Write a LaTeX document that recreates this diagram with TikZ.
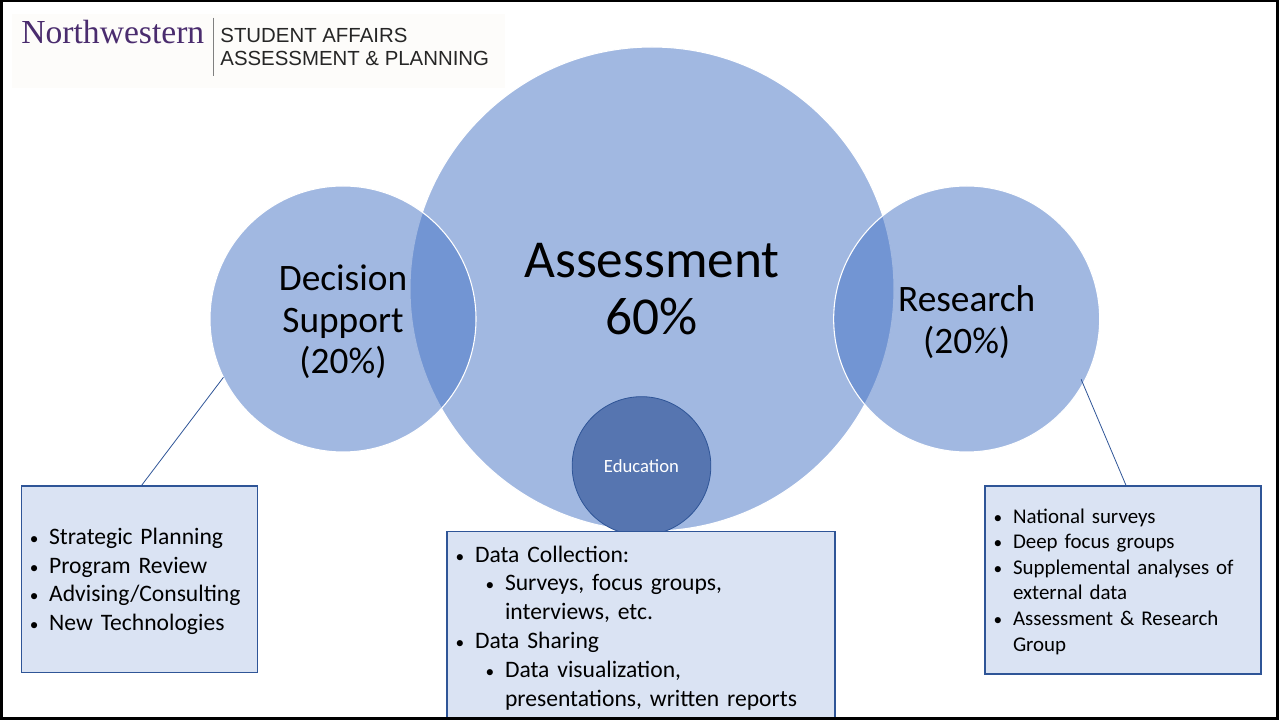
\documentclass[tikz,border=0pt]{standalone}
\usepackage{fontspec}
\usepackage{enumitem}
\usepackage{tikz}
\usetikzlibrary{positioning}
\setmainfont{Carlito}
\newfontfamily\logoserif{Liberation Serif}
\newfontfamily\logosans{Liberation Sans}
\definecolor{bubblefill}{HTML}{4472C4}
\definecolor{edublue}{HTML}{5675B0}
\definecolor{boxblue}{HTML}{2F5597}
\definecolor{boxfill}{HTML}{DAE3F3}
\definecolor{nwpurple}{HTML}{4A2C6E}
\definecolor{logopaper}{HTML}{FDFCFA}
\setlist[itemize]{nosep, leftmargin=21pt, labelsep=8pt, label={\fontsize{13}{13}\selectfont\textbullet}}
\setlist[itemize,1]{after=\vspace{6pt}}
\newcommand{\bubblelines}[1]{\raisebox{-3.75pt}[\height][\depth]{\begin{tabular}{@{}c@{}}#1\end{tabular}}}
\tikzset{
    bubble/.style={circle, draw=white, fill=bubblefill, fill opacity=0.5, text opacity=1, thick, align=center, outer sep=0pt},
    listbox/.style={rectangle, draw=boxblue, fill=boxfill, line width=0.9pt, inner xsep=0pt, inner ysep=0pt, outer sep=0pt, align=left}
}

\begin{document}
\begin{tikzpicture}[
            x = 0.75pt, % one unit is one pixel of the slide
            y = 0.75pt,
            semithick % line style
        ]

        \useasboundingbox (0,0) rectangle (1279,721);

        % logo strip
        \fill[logopaper] (12,633) rectangle (505,707);
        \node[font=\logoserif\fontsize{25.2}{30}\selectfont, text=nwpurple, inner sep=0pt, anchor=west] (nw) at (21,689) {Northwestern};
        \node[draw=none, inner sep=0pt, minimum height=43.5pt, minimum width=0pt, anchor=west] (rule) at (213,674) {};
        \draw[gray, line width=1pt] (rule.north) -- (rule.south);
        \node[font=\logosans\fontsize{15.3}{17}\selectfont, text=black!85, inner sep=0pt, align=left, anchor=west] (unit) at (220,674) {STUDENT AFFAIRS\\ASSESSMENT \& PLANNING};

        \node[bubble, minimum size=363pt, font=\fontsize{40}{43}\selectfont] (assessment) at (652,432) {Assessment\\60\%};
        \node[bubble, minimum size=199.5pt, font=\fontsize{28}{31.2}\selectfont, left=-49.5pt of assessment, yshift=-22.5pt] (decision) {\bubblelines{Decision\\Support\\(20\%)}};
        \node[bubble, minimum size=199.5pt, font=\fontsize{28}{31.2}\selectfont, right=-45.25pt of assessment, yshift=-22.5pt] (research) {\bubblelines{Research\\(20\%)}};
        \node[circle, draw=boxblue, fill=edublue, minimum size=104pt, inner sep=0pt, text=white, font=\fontsize{14}{16}\selectfont] (education) at (641.5,255) {Education};

        \node[listbox, minimum width=291pt, minimum height=141pt, text width=291pt, font=\fontsize{17.7}{21.6}\selectfont, below=0.5pt of assessment, xshift=-8.25pt] (collectbox) {%
            \begin{itemize}
                \item Data Collection:
                \begin{itemize}[leftmargin=22.5pt]
                    \item Surveys, focus groups,\\ interviews, etc.
                \end{itemize}
                \item Data Sharing
                \begin{itemize}[leftmargin=22.5pt]
                    \item Data visualization,\\ presentations, written reports
                \end{itemize}
            \end{itemize}};
        \node[listbox, minimum width=177.5pt, minimum height=140pt, text width=177.5pt, font=\fontsize{17.7}{21.3}\selectfont, anchor=north] (decisionbox) at (139.5,235) {%
            \begin{itemize}
                \item Strategic Planning
                \item Program Review
                \item Advising/Consulting
                \item New Technologies
            \end{itemize}};
        \node[listbox, minimum width=207pt, minimum height=141pt, text width=207pt, font=\fontsize{15.7}{19.2}\selectfont, anchor=north] (researchbox) at (1123,235) {%
            \begin{itemize}
                \item National surveys
                \item Deep focus groups
                \item Supplemental analyses of external data
                \item Assessment \& Research Group
            \end{itemize}};

        \coordinate (researchfoot) at ([xshift=-3pt]research.-27.3);
        \draw[boxblue] (decision.206.6) -- (decisionbox.89);
        \draw[boxblue] (researchfoot) -- (researchbox.88.8);

        % slide frame
        \draw[black, line width=1.6pt] (1.5,2.5) rectangle (1277.5,720);

  \end{tikzpicture}
\end{document}
